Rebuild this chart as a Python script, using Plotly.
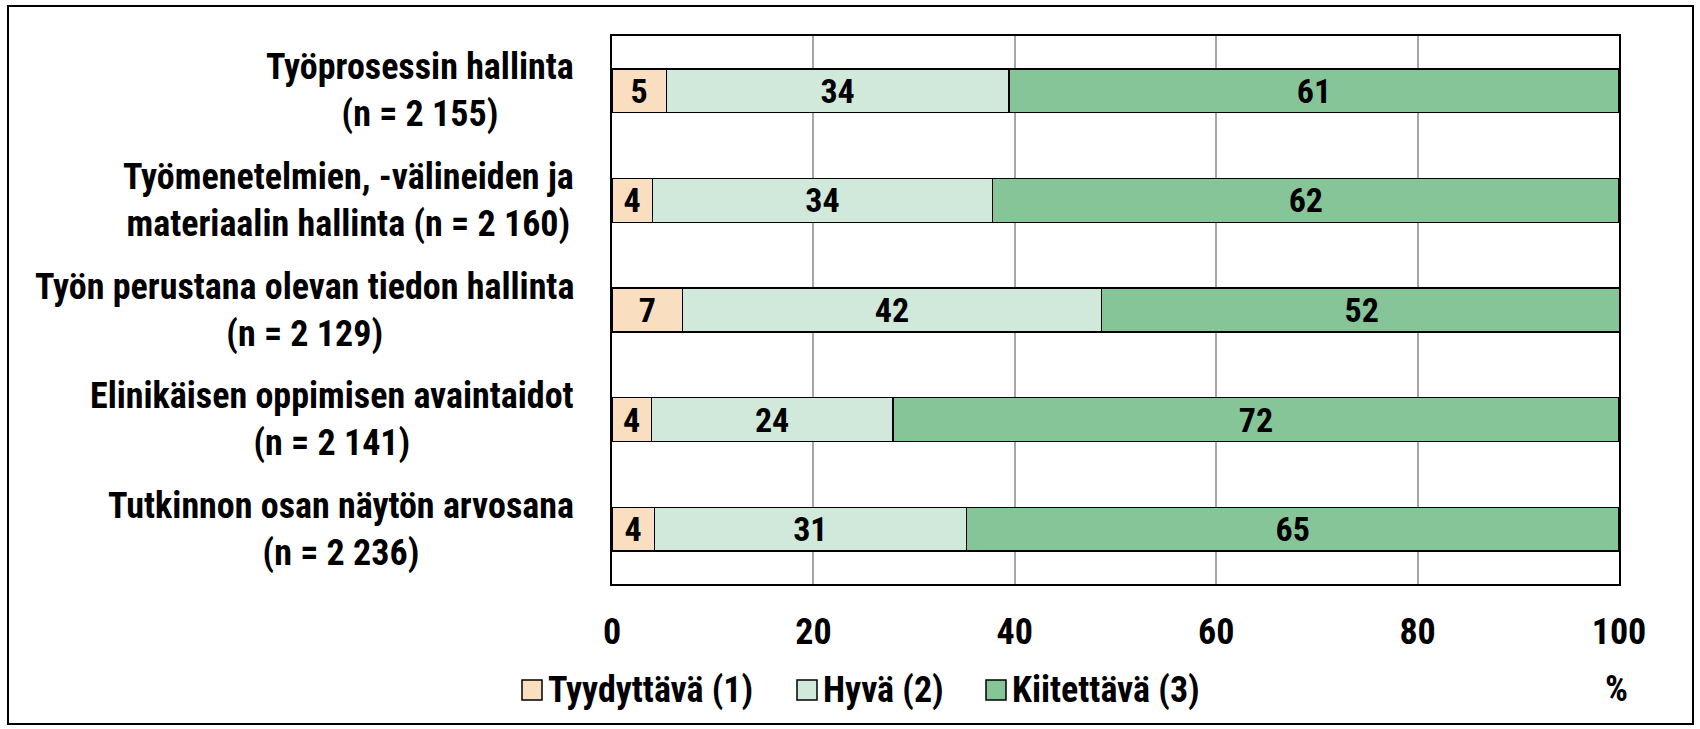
import plotly.graph_objects as go

# data
categories = [
    "Työprosessin hallinta<br>(n = 2 155)",
    "Työmenetelmien, -välineiden ja<br>materiaalin hallinta (n = 2 160)",
    "Työn perustana olevan tiedon hallinta<br>(n = 2 129)",
    "Elinikäisen oppimisen avaintaidot<br>(n = 2 141)",
    "Tutkinnon osan näytön arvosana<br>(n = 2 236)",
]
series_names = ["Tyydyttävä (1)", "Hyvä (2)", "Kiitettävä (3)"]
tyydyttava = [5.4, 4.0, 7.0, 3.9, 4.2]
hyva = [34.0, 33.8, 41.6, 24.0, 31.0]
kiitettava = [60.6, 62.2, 51.7, 72.1, 64.8]
x_ticks = [0, 20, 40, 60, 80, 100]

colors = ["#F9DEC0", "#D0E9DA", "#86C598"]
FONT = "Roboto Condensed, Arial Narrow, sans-serif"

W, H = 1700, 729
L, R, T, B = 612, 1619, 36, 584  # plot area in pixels


def px(x):
    return (x - L) / (R - L)


def py(y):
    return (B - y) / (B - T)


fig = go.Figure()
for name, vals, col in zip(series_names, [tyydyttava, hyva, kiitettava], colors):
    fig.add_trace(go.Bar(
        y=categories,
        x=vals,
        name=name,
        orientation="h",
        width=0.4,
        marker=dict(color=col, line=dict(color="black", width=1.5)),
        texttemplate="%{x:.0f}",
        textposition="inside",
        insidetextanchor="middle",
        textangle=0,
        constraintext="none",
        textfont=dict(family=FONT, size=34, color="black", weight="bold"),
        showlegend=False,
        hoverinfo="x+name",
    ))

# category labels, lines centered, block right aligned
for cat in categories:
    fig.add_annotation(
        x=0, xref="paper", xshift=-36, y=cat, yref="y",
        text=cat, showarrow=False, xanchor="right", align="center",
        font=dict(family=FONT, size=36, color="black", weight="bold"),
    )

# legend drawn by hand (square markers with outline)
legend_x = [522, 797, 986]
for name, col, lx in zip(series_names, colors, legend_x):
    fig.add_shape(type="rect", xref="paper", yref="paper",
                  x0=px(lx), x1=px(lx + 20), y0=py(700), y1=py(680),
                  fillcolor=col, line=dict(color="black", width=1.5))
    fig.add_annotation(x=px(lx + 24), xref="paper", y=py(690), yref="paper",
                       text=name, showarrow=False, xanchor="left", yanchor="middle",
                       font=dict(family=FONT, size=36, color="black", weight="bold"))

fig.add_annotation(x=px(1616), xref="paper", y=py(689), yref="paper",
                   text="%", showarrow=False, xanchor="center", yanchor="middle",
                   font=dict(family=FONT, size=36, color="black", weight="bold"))

# outer frame
fig.add_shape(type="rect", xref="paper", yref="paper",
              x0=px(8), x1=px(1693), y0=py(724), y1=py(6),
              line=dict(color="black", width=2), layer="below")

fig.update_layout(
    width=W, height=H,
    margin=dict(l=L, r=W - R, t=T, b=H - B, pad=0),
    barmode="stack",
    plot_bgcolor="white",
    paper_bgcolor="white",
    font=dict(family=FONT, size=36, color="black"),
)
fig.update_xaxes(
    range=[0, 100], tickvals=x_ticks, ticks="",
    showgrid=True, gridcolor="#A6A6A6", gridwidth=1.5, zeroline=False,
    showline=True, mirror=True, linecolor="black", linewidth=2,
    tickfont=dict(family=FONT, size=36, color="black", weight="bold"),
    ticklabelstandoff=15,
)
fig.update_yaxes(
    range=[4.5, -0.5], showticklabels=False, ticks="",
    showgrid=False, zeroline=False,
    showline=True, mirror=True, linecolor="black", linewidth=2,
)

config = {"displayModeBar": False, "displaylogo": False}

# drop the default page margin so the figure fills the window exactly
fig.write_html("out.html", config=config,
               post_script="document.body.style.margin = '0';")
